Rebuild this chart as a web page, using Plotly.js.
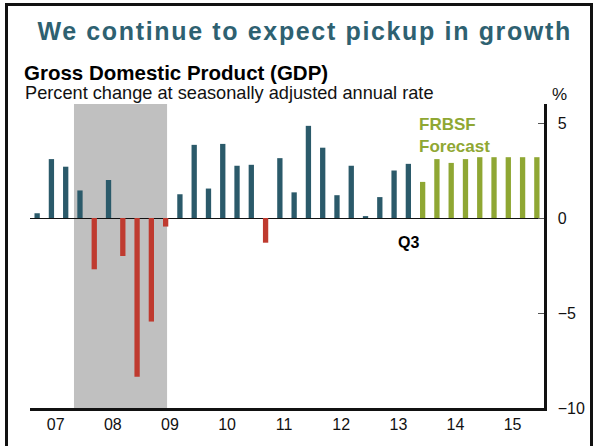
<!DOCTYPE html>
<html>
<head>
<meta charset="utf-8">
<script src="https://cdn.plot.ly/plotly-3.0.1.min.js"></script>
<style>
  body { margin: 0; background: #fff; }
  #wrap { position: relative; width: 595px; height: 446px; overflow: hidden; }
  #chart { position: absolute; left: 0; top: 0; width: 595px; height: 446px; }
  #frame { position: absolute; left: 5px; top: 3px; width: 582px; height: 470px;
           border: 3px solid #111; pointer-events: none; }
  #chart .gtitle { letter-spacing: 1.65px; }
</style>
</head>
<body>
<div id="wrap">
  <div id="chart"></div>
  <div id="frame"></div>
</div>
<script>
// Quarterly GDP growth, 2007Q1 - 2013Q3 (actual)
const actual = [0.25, 3.1, 2.7, 1.45,
                -2.7, 2.0, -2.0, -8.35,
                -5.45, -0.45, 1.25, 3.85,
                1.55, 3.9, 2.75, 2.8,
                -1.3, 3.15, 1.35, 4.85,
                3.7, 1.2, 2.75, 0.1,
                1.1, 2.5, 2.85];
// FRBSF forecast, 2013Q4 - 2015Q4
const forecast = [1.9, 3.1, 2.9, 3.1,
                  3.2, 3.2, 3.2, 3.2, 3.2];
const firstYear = 2007;
const years = ['07', '08', '09', '10', '11', '12', '13', '14', '15'];
const recession = [2007.77, 2009.4];

const qx = i => firstYear + (i + 0.5) / 4;

const posX = [], posY = [], negX = [], negY = [];
actual.forEach((v, i) => {
  if (v >= 0) { posX.push(qx(i)); posY.push(v); }
  else { negX.push(qx(i)); negY.push(v); }
});
const fcX = forecast.map((_, i) => qx(actual.length + i));

const barW = 0.093;
const teal = '#2b5a6a', red = '#bf3a2f', green = '#8fa733';

const data = [
  { type: 'bar', x: posX, y: posY, width: barW, marker: { color: teal }, hoverinfo: 'y' },
  { type: 'bar', x: negX, y: negY, width: barW, marker: { color: red }, hoverinfo: 'y' },
  { type: 'bar', x: fcX, y: forecast, width: barW, marker: { color: green }, hoverinfo: 'y' }
];

const font = 'Liberation Sans, Arial, sans-serif';
const xr = [firstYear, firstYear + years.length];

const layout = {
  width: 595, height: 446,
  margin: { l: 30, r: 51, t: 104, b: 38 },
  paper_bgcolor: '#fff', plot_bgcolor: 'rgba(0,0,0,0)',
  showlegend: false, barmode: 'overlay',
  font: { family: font, size: 16, color: '#111' },
  title: {
    text: 'We continue to expect pickup in growth',
    font: { family: font, size: 25, color: '#2e6171', weight: 'bold' },
    x: 0.512, xanchor: 'center', xref: 'container',
    y: 1 - 31 / 446, yanchor: 'middle', yref: 'container'
  },
  xaxis: {
    range: xr, tickvals: years.map((_, i) => firstYear + i + 0.45), ticktext: years,
    ticks: '', showgrid: false, zeroline: false,
    showline: true, linecolor: '#111', linewidth: 2.5,
    tickfont: { size: 16, color: '#111' }
  },
  xaxis2: {
    range: xr, overlaying: 'x', anchor: 'y',
    tickvals: years.slice(1).map((_, i) => firstYear + i + 1),
    ticks: 'inside', ticklen: 5, tickwidth: 1, tickcolor: '#444',
    showticklabels: false, showgrid: false, zeroline: false
  },
  yaxis: {
    range: [-10, 6], side: 'right', tickvals: [-10, -5, 0, 5],
    ticks: 'inside', ticklen: 6, tickwidth: 1, tickcolor: '#555',
    ticklabelstandoff: 8,
    showgrid: false, zeroline: true, zerolinecolor: '#111', zerolinewidth: 1,
    showline: true, linecolor: '#111', linewidth: 2.5,
    tickfont: { size: 16, color: '#111' }
  },
  yaxis2: {
    range: [-10, 6], overlaying: 'y', side: 'left', anchor: 'x',
    tickvals: [-5, 5], ticks: 'inside', ticklen: 11, tickwidth: 1, tickcolor: '#555',
    showticklabels: false, showgrid: false, zeroline: false,
    showline: true, linecolor: '#111', linewidth: 2.5
  },
  shapes: [{
    type: 'rect', xref: 'x', yref: 'paper', layer: 'below',
    x0: recession[0], x1: recession[1], y0: 0, y1: 1,
    fillcolor: '#c0c0c0', line: { width: 0 }
  }],
  annotations: [
    { text: '<b>Gross Domestic Product (GDP)</b>', xref: 'paper', yref: 'paper',
      x: -0.016, y: 1.104, xanchor: 'left', yanchor: 'middle', showarrow: false,
      font: { size: 20.5, color: '#000' } },
    { text: 'Percent change at seasonally adjusted annual rate', xref: 'paper', yref: 'paper',
      x: -0.014, y: 1.036, xanchor: 'left', yanchor: 'middle', showarrow: false,
      font: { size: 18.2, color: '#111' } },
    { text: '%', xref: 'paper', yref: 'paper',
      x: 1.031, y: 1.03, xanchor: 'center', yanchor: 'middle', showarrow: false,
      font: { size: 17, color: '#111' } },
    { text: '<b>FRBSF<br>Forecast</b>', xref: 'x', yref: 'y',
      x: 2013.77, y: 4.33, xanchor: 'left', yanchor: 'middle', align: 'left', showarrow: false,
      font: { size: 17, color: green } },
    { text: '<b>Q3</b>', xref: 'x', yref: 'y',
      x: qx(actual.length - 1), y: -1.27, xanchor: 'center', yanchor: 'middle', showarrow: false,
      font: { size: 16, color: '#000' } }
  ]
};

Plotly.newPlot('chart', data, layout, { displayModeBar: false, staticPlot: true });
</script>
</body>
</html>
